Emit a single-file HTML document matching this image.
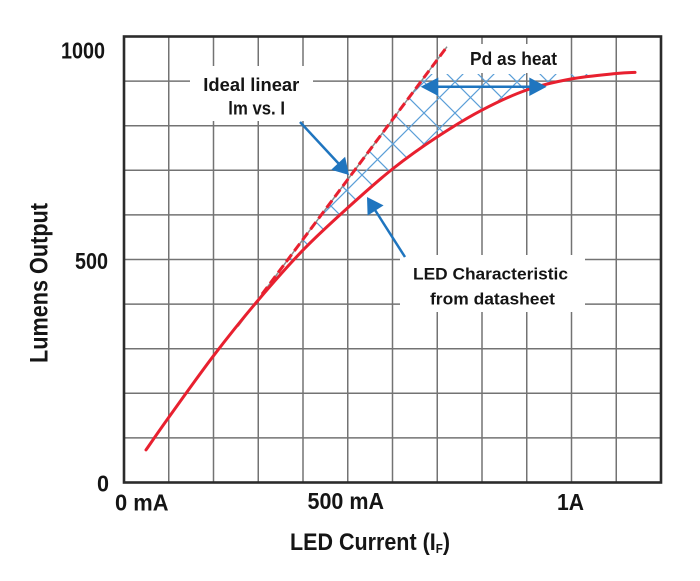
<!DOCTYPE html>
<html>
<head>
<meta charset="utf-8">
<style>
  html, body { margin: 0; padding: 0; background: #ffffff; }
  svg { display: block; }
  text { font-family: "Liberation Sans Narrow", "Liberation Sans", sans-serif; font-weight: bold; fill: #151515; }
</style>
</head>
<body>
<svg width="700" height="581" viewBox="0 0 700 581" xmlns="http://www.w3.org/2000/svg">
  <rect x="0" y="0" width="700" height="581" fill="#ffffff"/>

  <!-- grid -->
  <g stroke="#737373" stroke-width="1.5" fill="none">
    <line x1="168.75" y1="36.5" x2="168.75" y2="482.5"/>
    <line x1="213.5" y1="36.5" x2="213.5" y2="482.5"/>
    <line x1="258.25" y1="36.5" x2="258.25" y2="482.5"/>
    <line x1="303" y1="36.5" x2="303" y2="482.5"/>
    <line x1="347.75" y1="36.5" x2="347.75" y2="482.5"/>
    <line x1="392.5" y1="36.5" x2="392.5" y2="482.5"/>
    <line x1="437.25" y1="36.5" x2="437.25" y2="482.5"/>
    <line x1="482" y1="36.5" x2="482" y2="482.5"/>
    <line x1="526.75" y1="36.5" x2="526.75" y2="482.5"/>
    <line x1="571.5" y1="36.5" x2="571.5" y2="482.5"/>
    <line x1="616.25" y1="36.5" x2="616.25" y2="482.5"/>

    <line x1="124" y1="437.9" x2="661" y2="437.9"/>
    <line x1="124" y1="393.3" x2="661" y2="393.3"/>
    <line x1="124" y1="348.7" x2="661" y2="348.7"/>
    <line x1="124" y1="304.1" x2="661" y2="304.1"/>
    <line x1="124" y1="259.5" x2="661" y2="259.5"/>
    <line x1="124" y1="214.9" x2="661" y2="214.9"/>
    <line x1="124" y1="170.3" x2="661" y2="170.3"/>
    <line x1="124" y1="125.7" x2="661" y2="125.7"/>
    <line x1="124" y1="81.1" x2="661" y2="81.1"/>
  </g>

  <!-- white label boxes breaking grid -->
  <rect x="190" y="66" width="123" height="55" fill="#ffffff"/>
  <rect x="460" y="44" width="107" height="29" fill="#ffffff"/>
  <rect x="400" y="255" width="185" height="57" fill="#ffffff"/>

  <!-- hatch -->
  <defs>
    <clipPath id="hc">
      <polygon points="250,310 426.6,74 625,74 616,73.8 605,74.8 586,76.2 571.5,78.9 549,84 526.75,90 504,99 482,110.1 460,122.5 437.25,136.9 415,152 392.5,169 370,188 347.75,207.8 325,228.5 303,250.1 280,275 258.25,300.1"/>
    </clipPath>
  </defs>
  <g clip-path="url(#hc)" stroke="#5b9fd8" stroke-width="1.2" fill="none">
    <path d="M466,40L166,340 M497,40L197,340 M528,40L228,340 M559,40L259,340 M590,40L290,340 M621,40L321,340 M652,40L352,340
             M-52,40L248,340 M-21,40L279,340 M10,40L310,340 M41,40L341,340 M72,40L372,340 M103,40L403,340 M134,40L434,340
             M165,40L465,340 M196,40L496,340 M227,40L527,340 M258,40L558,340 M289,40L589,340 M320,40L620,340 M351,40L651,340
             M382,40L682,340 M413,40L713,340 M444,40L744,340 M475,40L775,340 M506,40L806,340 M537,40L837,340 M568,40L868,340 M599,40L899,340"/>
  </g>

  <!-- ideal linear gray underlay -->
  <line x1="238" y1="326.4" x2="447" y2="46.7" stroke="#8a8a8a" stroke-width="1.5"/>

  <!-- LED characteristic curve -->
  <path d="M146,449.9 C149.8,444.5 157.5,433.1 168.75,417.4 C180,401.7 198.6,375.4 213.5,355.8 C228.4,336.3 243.3,317.7 258.25,300.1 C273.2,282.5 288.1,265.5 303,250.1 C317.9,234.7 332.8,221.3 347.75,207.8 C362.7,194.3 377.6,180.8 392.5,169 C407.4,157.2 422.3,146.7 437.25,136.9 C452.2,127.1 467.1,117.9 482,110.1 C496.9,102.3 511.8,95.2 526.75,90 C541.7,84.8 556.6,81.65 571.5,78.9 C586.4,76.15 605.7,74.6 616.25,73.5 C626.8,72.4 631.9,72.6 635,72.4"
        fill="none" stroke="#e8202f" stroke-width="3" stroke-linecap="round"/>

  <!-- ideal linear dashed -->
  <line x1="262" y1="294.2" x2="447" y2="46.7" stroke="#e8202f" stroke-width="3" stroke-dasharray="9 4.5"/>

  <!-- blue arrows -->
  <g fill="#1f75bf" stroke="none">
    <line x1="300" y1="122" x2="339" y2="164" stroke="#1f75bf" stroke-width="2.5"/>
    <polygon points="349,175 331.2,169.8 345.1,156.8"/>
    <line x1="405" y1="257" x2="375" y2="210" stroke="#1f75bf" stroke-width="2.5"/>
    <polygon points="367,197 383.6,205.4 367.6,215.6"/>
    <line x1="436" y1="86.7" x2="531" y2="86.7" stroke="#1f75bf" stroke-width="2.5"/>
    <polygon points="420.7,86.7 438.3,77.5 438.3,96"/>
    <polygon points="546.7,86.7 529.3,77.5 529.3,96"/>
  </g>

  <!-- plot border -->
  <rect x="124" y="36.5" width="537" height="446" fill="none" stroke="#2b2b2b" stroke-width="2.6"/>

  <!-- annotation text -->
  <text x="203.3" y="91" font-size="18.5" textLength="96" lengthAdjust="spacingAndGlyphs">Ideal linear</text>
  <text x="228.3" y="114.3" font-size="18.5" textLength="56.7" lengthAdjust="spacingAndGlyphs">lm vs. I</text>
  <text x="470" y="65" font-size="18.5" textLength="87" lengthAdjust="spacingAndGlyphs">Pd as heat</text>
  <text x="413" y="279.3" font-size="17" textLength="155" lengthAdjust="spacingAndGlyphs">LED Characteristic</text>
  <text x="430" y="304.3" font-size="17" textLength="125" lengthAdjust="spacingAndGlyphs">from datasheet</text>

  <!-- axis tick labels -->
  <text x="61" y="58.5" font-size="23.5" textLength="44" lengthAdjust="spacingAndGlyphs">1000</text>
  <text x="75" y="269" font-size="23.5" textLength="33" lengthAdjust="spacingAndGlyphs">500</text>
  <text x="97" y="491.5" font-size="23.5" textLength="12" lengthAdjust="spacingAndGlyphs">0</text>
  <text x="115" y="510.5" font-size="23.5" textLength="53.5" lengthAdjust="spacingAndGlyphs">0 mA</text>
  <text x="307.5" y="509" font-size="23.5" textLength="76.5" lengthAdjust="spacingAndGlyphs">500 mA</text>
  <text x="557" y="510" font-size="23.5" textLength="27" lengthAdjust="spacingAndGlyphs">1A</text>

  <!-- axis titles -->
  <text x="290" y="550" font-size="24" textLength="160" lengthAdjust="spacingAndGlyphs">LED Current (I<tspan font-size="13" dy="3">F</tspan><tspan dy="-3">)</tspan></text>
  <text transform="translate(47.3,363) rotate(-90)" x="0" y="0" font-size="25" textLength="160" lengthAdjust="spacingAndGlyphs">Lumens Output</text>
</svg>
</body>
</html>
